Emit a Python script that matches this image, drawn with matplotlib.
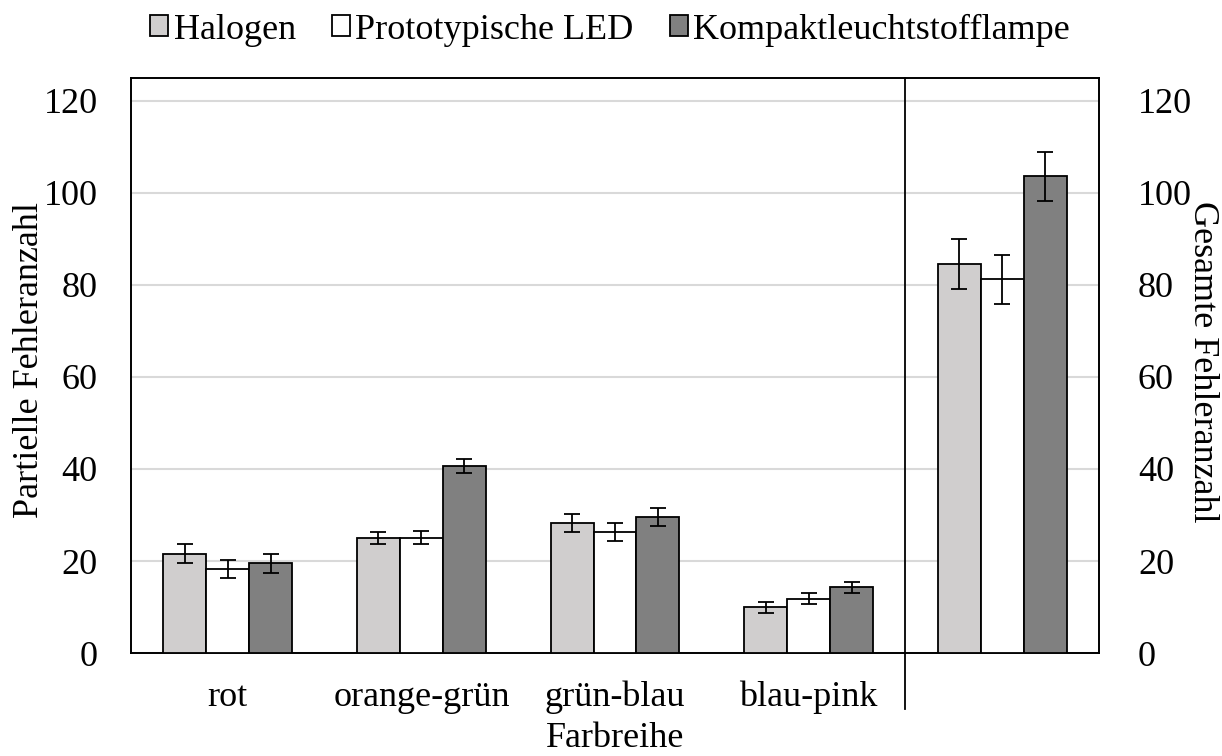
import matplotlib
matplotlib.use("Agg")
import matplotlib.pyplot as plt
import matplotlib.transforms as mtransforms
import numpy as np

plt.rcParams['font.family'] = ['Liberation Serif', 'DejaVu Serif']
plt.rcParams['font.size'] = 26

categories = ["rot", "orange-grün", "grün-blau", "blau-pink", ""]
series_names = ["Halogen", "Prototypische LED", "Kompaktleuchtstofflampe"]
halogen = [21.6, 25.0, 28.2, 9.9, 84.6]
led = [18.3, 25.1, 26.3, 11.8, 81.2]
kompakt = [19.5, 40.7, 29.6, 14.3, 103.6]
halogen_err = [2.1, 1.4, 2.0, 1.2, 5.5]
led_err = [2.0, 1.4, 2.0, 1.2, 5.4]
kompakt_err = [2.1, 1.5, 2.0, 1.2, 5.4]
yticks = [0, 20, 40, 60, 80, 100, 120]

colors = ["#d0cece", "#ffffff", "#808080"]

W, H = 1222, 756
fig = plt.figure(figsize=(W / 100, H / 100), dpi=100)
ax = fig.add_axes([131 / W, 1 - 653 / H, (1099 - 131) / W, (653 - 78) / H])

x = np.arange(len(categories))
w = 0.222
vals = [halogen, led, kompakt]
errs = [halogen_err, led_err, kompakt_err]
handles = []
for i, (v, e, c, n) in enumerate(zip(vals, errs, colors, series_names)):
    b = ax.bar(x + (i - 1) * w, v, width=w, color=c, edgecolor="black",
               linewidth=1.3, label=n, zorder=3)
    ax.errorbar(x + (i - 1) * w, v, yerr=e, fmt="none", ecolor="black",
                elinewidth=1.3, capsize=6, capthick=1.3, zorder=4)
    handles.append(b)

ax.set_xlim(-0.5, 4.5)
ax.set_ylim(0, 125)
ax.set_yticks(yticks)
ax.yaxis.grid(True, color="#d9d9d9", linewidth=1.5, zorder=0)
ax.set_axisbelow(True)
ax.set_xticks(x)
ax.set_xticklabels(categories)
ax.tick_params(axis="x", length=0, pad=20)
ax.tick_params(axis="y", length=0, pad=24)
for s in ax.spines.values():
    s.set_linewidth(1.4)
    s.set_color("black")

ax2 = ax.twinx()
ax2.set_ylim(0, 125)
ax2.set_yticks(yticks)
ax2.tick_params(axis="y", length=0, pad=28)
for s in ax2.spines.values():
    s.set_visible(False)

fig.text(30 / W, 1 - 360 / H, "Partielle Fehleranzahl", rotation=90,
         ha="center", va="center")
fig.text(1202 / W, 1 - 362 / H, "Gesamte Fehleranzahl", rotation=-90,
         ha="center", va="center")
fig.text(615 / W, 1 - 747 / H, "Farbreihe", ha="center", va="baseline")

trans = mtransforms.blended_transform_factory(ax.transData, ax.transAxes)
ax.plot([3.5, 3.5], [1.0, -0.097], transform=trans, color="black",
        linewidth=1.3, clip_on=False, zorder=5)

leg = fig.legend(handles=handles, labels=series_names, loc="center",
                 bbox_to_anchor=(610 / W, 1 - 30 / H), ncol=3, frameon=False,
                 handlelength=0.5, handleheight=0.5, handletextpad=0.15,
                 columnspacing=1.0, borderaxespad=0.0, borderpad=0.0)

fig.savefig("out.png", dpi=100)
